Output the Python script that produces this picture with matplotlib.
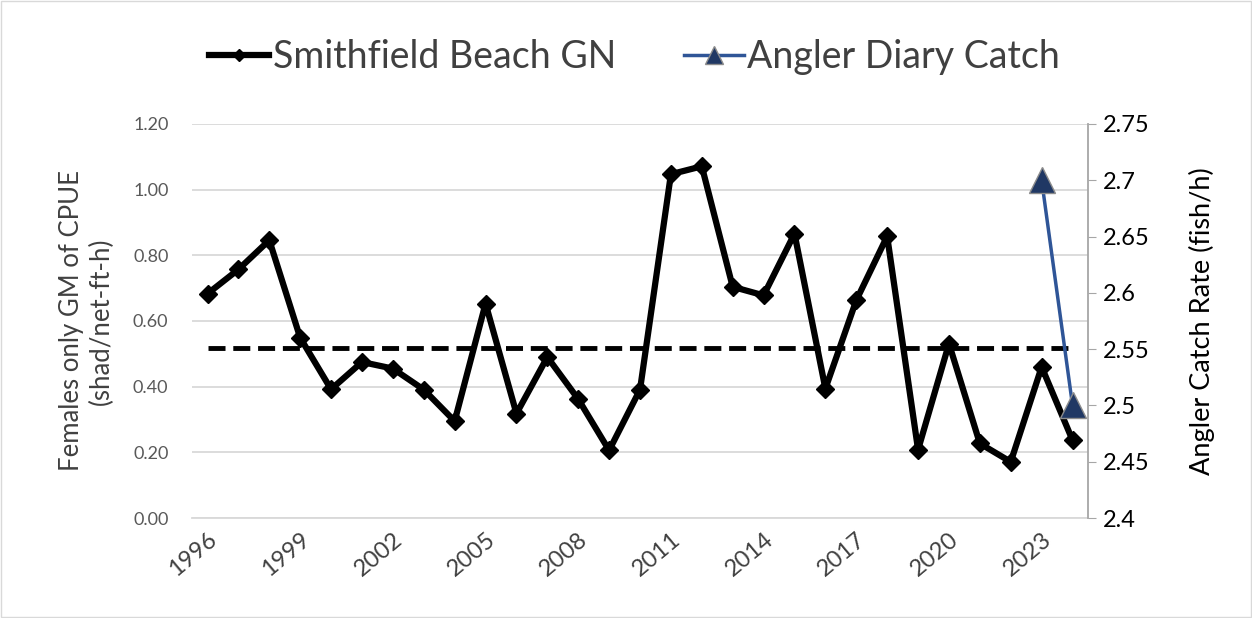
import numpy as np
import matplotlib
matplotlib.use("Agg")
import matplotlib.pyplot as plt
from matplotlib.patches import Rectangle

plt.rcParams['font.family'] = ['Lato', 'DejaVu Sans']

# data
years = list(range(1996, 2025))
gn_cpue = [0.683, 0.757, 0.846, 0.549, 0.392, 0.475, 0.455, 0.391, 0.295, 0.653,
           0.318, 0.490, 0.362, 0.206, 0.391, 1.047, 1.071, 0.704, 0.678, 0.866,
           0.394, 0.663, 0.858, 0.208, 0.531, 0.227, 0.171, 0.460, 0.237]
gn_mean = 0.519
angler_years = [2023, 2024]
angler_rate = [2.70, 2.50]
left_ticks = [0.0, 0.2, 0.4, 0.6, 0.8, 1.0, 1.2]
right_ticks = [2.4, 2.45, 2.5, 2.55, 2.6, 2.65, 2.7, 2.75]
right_labels = ["2.4", "2.45", "2.5", "2.55", "2.6", "2.65", "2.7", "2.75"]

x = np.arange(len(years))
xa = [years.index(y) for y in angler_years]

fig = plt.figure(figsize=(12.52, 6.18), dpi=100)
ax = fig.add_axes([0.1534, 0.1618, 0.7156, 0.6376])
ax2 = ax.twinx()

# main series
ax.plot(x, gn_cpue, color="black", lw=4.5, marker="D", ms=9, zorder=3,
        label="Smithfield Beach GN")
# long-term mean
ax.plot(x, [gn_mean] * len(x), color="black", lw=3.5, ls=(0, (3.5, 1.6)), zorder=2)

ax2.plot(xa, angler_rate, color="#2F5597", lw=2.5, marker="^", ms=19,
         markerfacecolor="#203864", markeredgecolor="#8C8C8C", markeredgewidth=1,
         label="Angler Diary Catch", zorder=4)

ax.set_xlim(-0.5, len(years) - 0.5)
ax.set_ylim(0, 1.2)
ax2.set_ylim(2.4, 2.75)

ax.set_yticks(left_ticks)
ax.set_yticklabels(["%.2f" % v for v in left_ticks], fontsize=13, color="#595959")
ax.yaxis.grid(True, color="#D9D9D9", lw=1.3)
ax.set_axisbelow(True)
ax.tick_params(axis="y", length=0, pad=17)

ax2.set_yticks(right_ticks)
ax2.set_yticklabels(right_labels, fontsize=17, color="black")
ax2.tick_params(axis="y", length=6, color="#A6A6A6", pad=5)

ax.set_xticks(x[::3])
ax.set_xticklabels([str(y) for y in years[::3]], rotation=40, ha="right",
                   rotation_mode="anchor", fontsize=17, color="#404040")
ax.tick_params(axis="x", length=0, pad=8)

for sp in ["top", "left", "right"]:
    ax.spines[sp].set_visible(False)
for sp in ["top", "left"]:
    ax2.spines[sp].set_visible(False)
ax.spines["bottom"].set_color("#D9D9D9")
ax.spines["bottom"].set_linewidth(1.3)
ax2.spines["bottom"].set_visible(False)
ax2.spines["right"].set_color("#A6A6A6")
ax2.spines["right"].set_linewidth(1.3)

ax.set_ylabel("Females only GM of CPUE\n(shad/net-ft-h)", fontsize=18.5,
              color="#404040", labelpad=14, linespacing=1.2)
ax2.set_ylabel("Angler Catch Rate (fish/h)", fontsize=19.5, color="black", labelpad=28)
ax2.yaxis.label.set_rotation(90)

h1, l1 = ax.get_legend_handles_labels()
h2, l2 = ax2.get_legend_handles_labels()
leg = fig.legend(h1 + h2, l1 + l2, loc="center", bbox_to_anchor=(0.507, 0.908),
                 ncol=2, frameon=False, fontsize=27, handlelength=1.6,
                 handletextpad=0.1, columnspacing=1.8, markerscale=0.7)
for t in leg.get_texts():
    t.set_color("#404040")

fig.patches.append(Rectangle((0.001, 0.002), 0.998, 0.996, transform=fig.transFigure,
                             fill=False, edgecolor="#D9D9D9", lw=1))

fig.savefig("out.png", dpi=100)
